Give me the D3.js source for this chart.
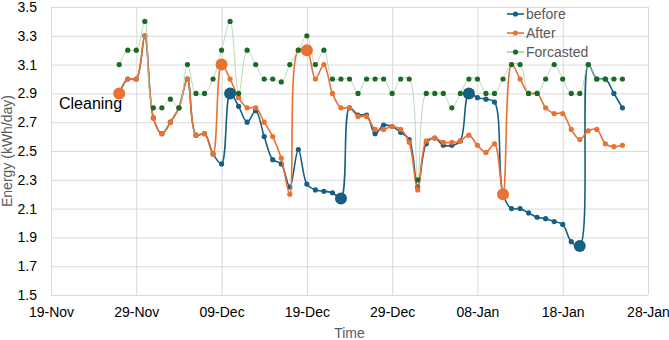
<!DOCTYPE html>
<html>
<head>
<meta charset="utf-8">
<script src="https://cdn.jsdelivr.net/npm/d3@7"></script>
<style>
  body { margin: 0; background: #fff; }
  #chart { width: 669px; height: 340px; }
  text { font-family: "Liberation Sans", Arial, sans-serif; }
</style>
</head>
<body>
<div id="chart"></div>
<script>
// first reading is on 27-Nov, one value per day
const startDate = "2024-11-27"

const before = [2.9, 3.0, 3.0, 3.3, 2.73, 2.62, 2.70, 2.80, 3.0, 2.61,
  2.62, 2.48, 2.41, 2.9, 2.81, 2.70, 2.78, 2.60, 2.44, 2.41,
  2.25, 2.51, 2.27, 2.23, 2.22, 2.21, 2.17, 2.80, 2.75, 2.75,
  2.62, 2.68, 2.67, 2.63, 2.58, 2.25, 2.55, 2.59, 2.54, 2.54,
  2.57, 2.9, 2.87, 2.86, 2.84, 2.2, 2.10, 2.10, 2.07, 2.04,
  2.03, 2.01, 1.99, 1.87, 1.84, 3.1, 3.0, 3.0, 2.9, 2.8]

const after = [2.9, 3.0, 3.0, 3.3, 2.73, 2.62, 2.70, 2.80, 3.0, 2.61,
  2.62, 2.48, 3.1, 3.0, 2.87, 2.8, 2.8, 2.7, 2.6, 2.45,
  2.2, 3.2, 3.2, 3.0, 3.1, 2.9, 2.8, 2.8, 2.74, 2.74,
  2.65, 2.65, 2.67, 2.65, 2.56, 2.23, 2.57, 2.59, 2.56, 2.56,
  2.57, 2.61, 2.54, 2.49, 2.55, 2.2, 3.1, 3.0, 2.9, 2.9,
  2.8, 2.76, 2.76, 2.65, 2.58, 2.64, 2.65, 2.55, 2.53, 2.54]

const forecast = [3.1, 3.2, 3.2, 3.4, 2.8, 2.8, 2.86, 2.8, 3.1, 2.9,
  2.9, 3.0, 3.2, 3.4, 2.9, 3.2, 3.1, 3.0, 3.0, 2.98,
  3.1, 3.2, 3.3, 3.1, 3.2, 3.0, 3.0, 3.0, 2.9, 3.0,
  3.0, 3.0, 2.9, 3.0, 3.0, 2.3, 2.9, 2.9, 2.9, 2.8,
  2.9, 3.0, 3.0, 2.9, 2.9, 3.0, 3.1, 3.1, 2.9, 2.9,
  3.0, 3.1, 3.0, 2.9, 2.9, 3.1, 3.0, 3.0, 3.0, 3.0]

// index of the highlighted (big) markers
const beforeBig = [13, 26, 41, 54]
const afterBig = [0, 12, 22, 45]

const xTicks = ["2024-11-19", "2024-11-29", "2024-12-09", "2024-12-19",
  "2024-12-29", "2025-01-08", "2025-01-18", "2025-01-28"]
const yTicks = [1.5, 1.7, 1.9, 2.1, 2.3, 2.5, 2.7, 2.9, 3.1, 3.3, 3.5]

const colors = { before: "#156082", after: "#E97132", forecast: "#196B24" }

const parseDate = d3.timeParse("%Y-%m-%d")
const start = parseDate(startDate)
const toPoints = arr => arr.map((v, i) => ({ date: d3.timeDay.offset(start, i), value: v }))

const margin = { top: 7, right: 21, bottom: 45, left: 51 }
const W = 669, H = 340
const width = W - margin.left - margin.right
const height = H - margin.top - margin.bottom

const svg = d3.select("#chart").append("svg")
  .attr("width", W).attr("height", H)
const g = svg.append("g").attr("transform", `translate(${margin.left},${margin.top})`)

const x = d3.scaleTime()
  .domain([parseDate(xTicks[0]), parseDate(xTicks[xTicks.length - 1])])
  .range([0, width])
const y = d3.scaleLinear().domain([1.5, 3.5]).range([height, 0])

// grid
g.append("g")
  .call(d3.axisLeft(y).tickValues(yTicks).tickSize(-width).tickFormat(""))
  .call(s => s.select(".domain").remove())
  .selectAll("line").attr("stroke", "#d9d9d9")
g.append("g")
  .call(d3.axisBottom(x).tickValues(xTicks.map(parseDate)).tickSize(height).tickFormat(""))
  .call(s => s.select(".domain").remove())
  .selectAll("line").attr("stroke", "#d9d9d9")

// tick labels
g.append("g")
  .call(d3.axisLeft(y).tickValues(yTicks).tickSize(0).tickPadding(14).tickFormat(d3.format(".1f")))
  .call(s => s.select(".domain").remove())
  .selectAll("text").attr("font-size", 14).attr("fill", "#000")
g.append("g")
  .attr("transform", `translate(0,${height})`)
  .call(d3.axisBottom(x).tickValues(xTicks.map(parseDate)).tickSize(0).tickPadding(12)
    .tickFormat(d3.timeFormat("%d-%b")))
  .call(s => s.select(".domain").remove())
  .selectAll("text").attr("font-size", 14).attr("fill", "#000")

// axis titles
svg.append("text")
  .attr("x", margin.left + width / 2).attr("y", 338)
  .attr("text-anchor", "middle").attr("font-size", 14).attr("fill", "#595959")
  .text("Time")
svg.append("text")
  .attr("transform", `translate(12,${margin.top + height / 2}) rotate(-90)`)
  .attr("text-anchor", "middle").attr("font-size", 14).attr("fill", "#595959")
  .text("Energy (kWh/day)")

// smoothed lines
const line = d3.line()
  .x(d => x(d.date))
  .y(d => y(d.value))
  .curve(d3.curveCatmullRom)

function drawSeries(arr, color, opts) {
  const pts = toPoints(arr)
  g.append("path")
    .datum(pts)
    .attr("fill", "none")
    .attr("stroke", opts.lineColor || color)
    .attr("stroke-width", opts.lineWidth)
    .attr("d", line)
  g.append("g").selectAll("circle")
    .data(pts)
    .join("circle")
    .attr("cx", d => x(d.date))
    .attr("cy", d => y(d.value))
    .attr("r", 2.6)
    .attr("fill", color)
  return pts
}

const beforePts = drawSeries(before, colors.before, { lineWidth: 1.6 })
const afterPts = drawSeries(after, colors.after, { lineWidth: 1.6 })
drawSeries(forecast, colors.forecast, { lineWidth: 0.8, lineColor: "#a8cfa8" })

// highlighted points
g.append("g").selectAll("circle")
  .data(afterBig.map(i => afterPts[i]))
  .join("circle")
  .attr("cx", d => x(d.date)).attr("cy", d => y(d.value))
  .attr("r", 6).attr("fill", colors.after)
g.append("g").selectAll("circle")
  .data(beforeBig.map(i => beforePts[i]))
  .join("circle")
  .attr("cx", d => x(d.date)).attr("cy", d => y(d.value))
  .attr("r", 6).attr("fill", colors.before)

// annotation
g.append("text")
  .attr("x", 8).attr("y", y(2.9) + 16)
  .attr("font-size", 16).attr("fill", "#000")
  .text("Cleaning")

// legend
const legendItems = [
  { name: "before", color: colors.before, line: colors.before },
  { name: "After", color: colors.after, line: colors.after },
  { name: "Forcasted", color: colors.forecast, line: "#a8cfa8" }
]
const legend = svg.append("g").attr("transform", "translate(507,14)")
legendItems.forEach((d, i) => {
  const row = legend.append("g").attr("transform", `translate(0,${i * 19})`)
  row.append("line").attr("x1", 0).attr("x2", 17).attr("stroke", d.line).attr("stroke-width", 1.6)
  row.append("circle").attr("cx", 8.5).attr("r", 2.6).attr("fill", d.color)
  row.append("text").attr("x", 19).attr("dy", "0.35em")
    .attr("font-size", 14).attr("fill", "#595959").text(d.name)
})
</script>
</body>
</html>
